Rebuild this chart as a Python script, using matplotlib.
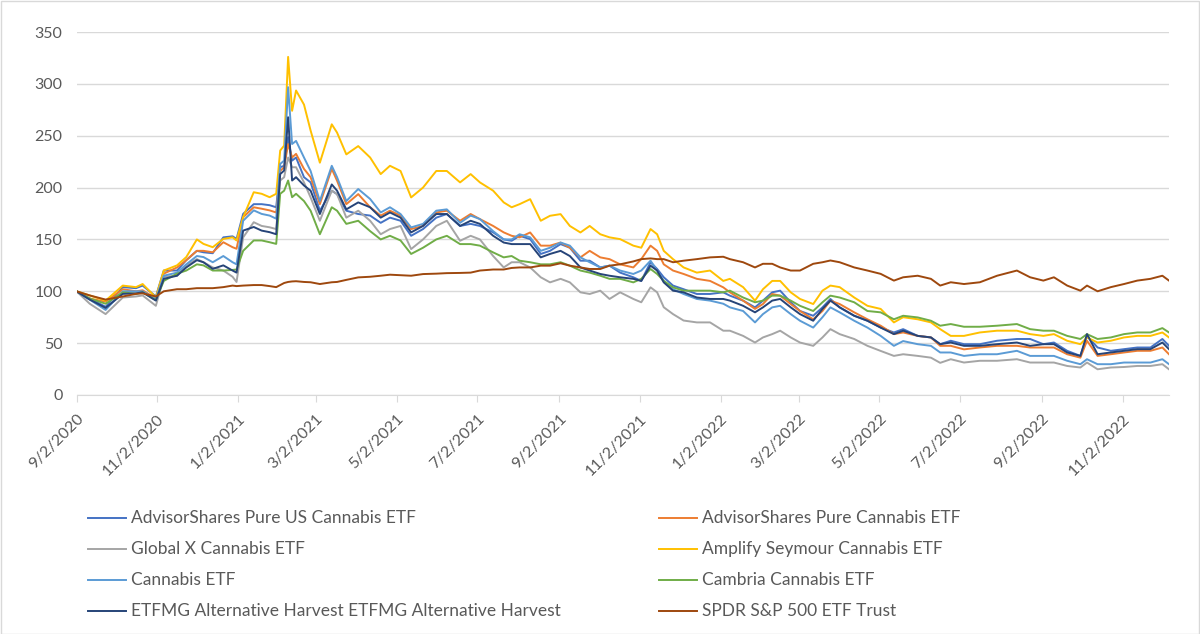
import matplotlib
matplotlib.use('Agg')
import matplotlib.pyplot as plt
from matplotlib.lines import Line2D
from matplotlib.patches import Rectangle
import pandas as pd

plt.rcParams['font.family'] = ['Lato', 'DejaVu Sans']

# days after 9/2/2020
days = [0, 10, 22, 35, 45, 50, 60, 66, 76, 83, 91, 96, 103, 111, 118, 121, 126, 134, 140, 146,
        151, 154, 157, 160, 163, 166, 172, 177, 184, 193, 197, 204, 213, 222, 230, 237, 245, 253, 262, 272,
        280, 290, 298, 305, 315, 323, 329, 335, 343, 351, 358, 366, 373, 381, 388, 396, 403, 411, 421, 427,
        434, 439, 444, 451, 459, 469, 479, 489, 494, 504, 513, 519, 526, 532, 540, 547, 557, 564, 570, 577,
        588, 598, 608, 618, 625, 636, 646, 653, 661, 671, 683, 696, 711, 721, 731, 739, 749, 759, 764, 772,
        782, 792, 802, 812, 821, 826]

msos = [100, 93, 85, 104, 103, 105.5, 95, 120, 120, 130, 139, 137.6, 136.7, 152, 153, 150.5, 174.6, 184, 184, 183,
        181, 219.6, 221, 248.6, 226, 229, 210, 205, 177.7, 197, 193.7, 177.7, 174.5, 173, 166, 171, 168, 153.5, 160, 171,
        174.5, 163, 165, 163, 156.8, 150, 148.7, 153.5, 150.3, 136, 139, 145.5, 142, 129.5, 129.5, 123, 124.7, 118, 113.5, 110,
        128, 121.5, 113.5, 105.5, 102, 97.4, 97.4, 99, 95.8, 91, 84.5, 91, 99, 100.6, 89.4, 81, 76.4, 84.5, 92.6, 84.5,
        76.4, 71.6, 65, 60.3, 63.5, 57, 55.5, 49, 52.3, 49, 49, 52.3, 54, 54, 49, 50.6, 42.6, 37.7, 57, 45.8,
        42.6, 44.2, 45.8, 45.8, 54, 47.4]
yolo = [100, 93, 90, 102, 100, 101, 93, 117, 123, 130, 139, 139, 137.6, 147.3, 142.5, 141, 171.4, 181, 179.6, 178,
        176, 216, 219.6, 242, 229, 232.5, 218, 210, 184, 218, 206.6, 184, 193.7, 181, 173, 177.7, 173, 160, 163, 176,
        177.7, 168, 174.5, 169.6, 163, 156.8, 153.5, 152, 156.7, 144, 144, 147, 142, 132.7, 139, 132.7, 131, 126, 123, 131,
        144, 139, 126, 120, 116.7, 112, 110, 103.8, 99, 91, 83, 87.7, 97.4, 95.8, 87.7, 81, 73, 81, 91, 87.7,
        79.7, 73, 66.8, 58.7, 60.3, 57, 55.5, 47.4, 47.4, 44, 45.8, 47.4, 47.4, 45.8, 45.8, 45.8, 39.3, 36, 52.3, 37.7,
        39.3, 41, 42.6, 42.6, 45.8, 39.3]
potx = [100, 88, 78, 94, 95, 96, 86, 114, 115, 125, 131, 128, 123, 120, 114, 109, 152, 166.6, 163, 161.7,
        160, 206.8, 210, 229, 219.6, 219.6, 205, 190.5, 168, 197, 193.7, 171, 177.7, 168, 155, 160, 163, 140.7, 150, 163,
        168, 148.7, 153.5, 150, 134, 123, 128, 128, 123, 113.5, 108.6, 112, 108.6, 99, 97.4, 100.6, 92.6, 99, 92.6, 89.4,
        103.8, 99, 84.6, 78, 71.8, 70, 70, 62, 62, 57, 50.6, 55.5, 58.7, 62, 55.5, 50.6, 47.4, 55.5, 63.5, 58.7,
        54, 47.4, 42.5, 37.7, 39.3, 37.7, 36, 31, 34.5, 31.3, 33, 33, 34.5, 31.3, 31.3, 31.3, 28, 26.5, 31.3, 24.8,
        26.5, 27, 28, 28, 29.7, 24.8]
cnbs = [100, 96, 91, 105.5, 104, 107, 94, 120, 125, 133, 150, 145.7, 142.5, 150.5, 152, 149, 171.4, 195.5, 194, 190.7,
        194, 235.7, 240.5, 326, 274, 293.6, 280, 255, 224, 261, 253, 232, 240, 229, 213, 221, 216, 190.5, 200, 216,
        216, 205, 213, 205, 197, 185.7, 181, 184, 188.8, 168, 172.8, 174.4, 163, 156.7, 163, 155, 152, 150.3, 144, 142,
        160, 155, 139, 131, 123, 118, 120, 110, 112, 104, 91, 102, 110, 110, 99, 92.6, 87.7, 100.6, 105.5, 104,
        94, 86, 83, 70, 75, 73, 70, 63.5, 57, 57, 60.3, 62, 62, 58.7, 57, 58.7, 52.3, 49, 55.5, 50.6,
        52.3, 55.5, 57, 57, 60.3, 55.5]
thcx = [100, 92, 82, 100, 100, 100, 92.5, 115, 118, 126, 134, 133, 128, 134, 128, 126, 168, 178, 174.6, 173,
        170, 222.8, 226, 296.8, 242, 245, 229, 216, 187, 221, 210, 187, 198.6, 189, 176, 181, 174.5, 161.6, 165, 177.7,
        179, 166, 173, 169.6, 158, 150, 150, 155, 152, 139, 142, 147, 144, 132.7, 128, 123, 124.7, 120, 116.7, 120,
        129.5, 120, 110, 102, 97.4, 92.6, 91, 88, 84.5, 81, 70, 78, 84.5, 86, 78, 71.6, 65, 75, 84.5, 79.7,
        71.6, 65, 57, 47.4, 52, 49, 47.4, 41, 41, 37.7, 39.3, 39.3, 42.6, 37.7, 37.7, 37.7, 33, 29.7, 34.5, 29.7,
        29.7, 31.3, 31.3, 31.3, 34.5, 29.7]
toke = [100, 93, 88, 99, 97.5, 99, 91.5, 110, 117, 120, 126, 125, 120, 120, 120.6, 121, 139, 149, 149, 147.3,
        145.7, 194, 197, 206.8, 190.7, 194, 187, 177.7, 155, 181, 177.7, 165, 168, 158, 150, 153.5, 149, 136, 142, 150,
        153.5, 145.5, 145.5, 144, 137.5, 132.7, 134, 129.5, 128, 126, 126, 128, 124.7, 120, 118, 115, 112, 112, 108.6, 112,
        121.5, 116.7, 110, 103.8, 100.6, 100.6, 100.6, 99, 100.6, 94, 89.4, 91, 95.8, 95.8, 91, 86, 81, 89.4, 95.8, 94,
        89.4, 81, 79.7, 73, 76.4, 74.8, 71.6, 66.8, 68.4, 65.8, 65.8, 66.8, 68.4, 63.5, 62, 62, 57, 54, 58.7, 54,
        55.5, 58.7, 60.3, 60.3, 64.5, 60.3]
mj = [100, 92, 84, 97.5, 98, 99, 91, 112, 115, 123, 130, 128, 121.6, 125, 120, 118, 158.5, 162, 158.5, 157,
      155, 213, 216.4, 267.8, 206.8, 210, 202, 197, 174.5, 203, 197, 179, 185.7, 181, 171, 176, 171, 156.8, 163, 174.5,
      174.5, 163, 168, 165, 153.5, 147, 145.5, 145.5, 145.5, 132.7, 136, 139, 134, 123, 120, 116.7, 115, 113.5, 112, 110,
      124.7, 120, 108.6, 100.6, 99, 94, 92.6, 92.6, 91, 86, 79.7, 84.5, 91, 92.6, 84.5, 78, 71.6, 83, 91, 84.5,
      76.4, 71.6, 65, 58.7, 62, 57, 55.5, 49, 50.6, 47.4, 47.4, 49, 50.6, 47.4, 49, 49, 41, 37.7, 58.7, 39.3,
      41, 42.6, 44.2, 44.2, 50.6, 44.2]
spy = [100, 96, 92, 95, 97.5, 98, 95, 100, 102, 102, 103, 103, 103, 104, 105.5, 105, 105.5, 106, 106, 105,
       104, 106, 108, 109, 109.5, 109.7, 109, 108.7, 107, 108.7, 109, 111, 113.4, 114, 115, 116, 115.5, 115, 116.6, 117,
       117.5, 117.7, 118, 120, 121, 121, 122.5, 123, 123, 124.7, 124.7, 127, 124.7, 123, 121.5, 121.5, 124.7, 126, 128.8, 131,
       131.7, 131, 131, 128, 129.5, 131, 132.7, 133.3, 131, 128, 123, 126.5, 126.5, 123, 120, 120, 126.5, 128, 129.7, 128,
       123, 120, 116.8, 110.3, 113.5, 115, 112, 105.5, 108.7, 107, 108.7, 115, 120, 113.5, 110.3, 113.5, 105.5, 100.6, 105.5, 100,
       104, 107, 110.3, 112, 115, 110.3]

names = ['AdvisorShares Pure US Cannabis ETF', 'AdvisorShares Pure Cannabis ETF',
         'Global X Cannabis ETF', 'Amplify Seymour Cannabis ETF',
         'Cannabis ETF', 'Cambria Cannabis ETF',
         'ETFMG Alternative Harvest ETFMG Alternative Harvest', 'SPDR S&P 500 ETF Trust']
series = [msos, yolo, potx, cnbs, thcx, toke, mj, spy]
colors = ['#4472C4', '#ED7D31', '#A5A5A5', '#FFC000', '#5B9BD5', '#70AD47', '#264478', '#9E480E']

dates = pd.Timestamp('2020-09-02') + pd.to_timedelta(days, unit='D')
tick_dates = pd.date_range('2020-09-01', '2022-11-01', freq='2MS') + pd.Timedelta(days=1)

fig = plt.figure(figsize=(12, 6.34), dpi=100)
ax = fig.add_axes([76.5 / 1200, 1 - 395 / 634, (1169 - 76.5) / 1200, (395 - 32) / 634])

lines = []
for vals, col, nm in zip(series, colors, names):
    ln, = ax.plot(dates, vals, color=col, lw=1.4, label=nm)
    lines.append(ln)

ax.set_ylim(0, 350)
ax.set_yticks(range(0, 351, 50))
ax.set_xlim(dates[0], dates[-1])
ax.set_xticks(tick_dates)
ax.set_xticklabels([f'{d.month}/{d.day}/{d.year}' for d in tick_dates],
                   rotation=45, ha='right', va='top', rotation_mode='anchor')
ax.grid(axis='y', color='#d9d9d9', lw=1)
ax.set_axisbelow(True)
for s in ['top', 'right', 'left']:
    ax.spines[s].set_visible(False)
ax.spines['bottom'].set_color('#d9d9d9')
ax.tick_params(axis='y', length=0, pad=10, labelsize=11.5, labelcolor='#595959')
ax.tick_params(axis='x', length=5, color='#d9d9d9', pad=7, labelsize=11.5, labelcolor='#595959')

# legend, two columns under the plot
row_y = [518, 549, 580, 611]
col_x = [88, 659]
for i, ln in enumerate(lines):
    r, c = divmod(i, 2)
    y = 1 - row_y[r] / 634
    x0 = col_x[c] / 1200
    fig.add_artist(Line2D([x0, x0 + 38 / 1200], [y, y], color=ln.get_color(), lw=1.4,
                          transform=fig.transFigure))
    fig.text(x0 + 43 / 1200, y, ln.get_label(), va='center', ha='left',
             fontsize=12.5, color='#595959')

fig.add_artist(Rectangle((0.5 / 1200, 0.5 / 634), 1 - 1.5 / 1200, 1 - 1.5 / 634,
                         transform=fig.transFigure, fill=False, edgecolor='#d9d9d9', lw=1))

fig.savefig('out.png', dpi=100)
